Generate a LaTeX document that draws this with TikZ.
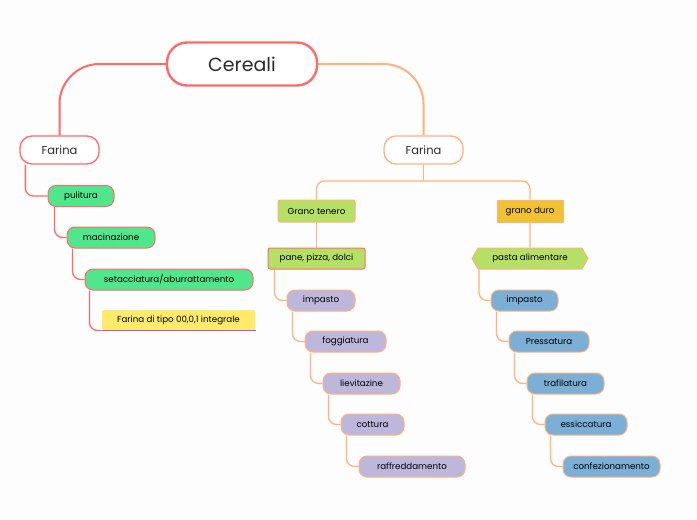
\documentclass[tikz,border=0pt]{standalone}
\usepackage{fontspec}
\setmainfont{Poppins}
\usepackage{tikz}
\usetikzlibrary{shapes.symbols,backgrounds}
\definecolor{CeRed}   {HTML}{FF6B6B}
\definecolor{CeOrange}{HTML}{FFB27F}
\definecolor{CeGreen} {HTML}{4FE68C}
\definecolor{CeYellow}{HTML}{FFEA6A}
\definecolor{CePurple}{HTML}{B24FF0}
\definecolor{CeLime}  {HTML}{B5E065}
\definecolor{CeGold}  {HTML}{F0C233}
\definecolor{CeLav}   {HTML}{BDB7DC}
\definecolor{CeBlue}  {HTML}{7BAFD5}
\definecolor{CeText}  {HTML}{2B2B2B}
\definecolor{CePaper} {HTML}{FDFDFD}

\begin{document}
\begin{tikzpicture}[x=1pt,y=-1pt,
    root/.style={draw=CeRed,line width=2.4pt,fill=white,rounded corners=20pt,
      minimum width=150pt,minimum height=43pt,text=CeText,font=\fontsize{19}{21}\selectfont},
    topic/.style={line width=1.3pt,fill=white,rounded corners=12pt,
      minimum width=79pt,minimum height=28pt,text=CeText,font=\fontsize{11.5}{13}\selectfont},
    item/.style={line width=1pt,rounded corners=8pt,minimum height=21pt,inner sep=0pt,
      text=black,font=\fontsize{8.7}{10}\selectfont},
    leaf/.style={item,rounded corners=2pt},
    link/.style={line width=1.3pt,rounded corners=8pt},
    trunk/.style={line width=2pt,rounded corners=40pt}
  ]
    \begin{scope}[on background layer]
      \fill[CePaper] (0,0) rectangle (697,520);
    \end{scope}
    \useasboundingbox (0,0) rectangle (697,520);

    % top
    \node[root](cer) at (242,64) {Cereali};
    \node[topic,draw=CeRed](farL) at (59.5,150) {Farina};
    \node[topic,draw=CeOrange](farR) at (423.5,150) {Farina};

    % farina (left)
    \node[item,fill=CeGreen,draw=CeRed,minimum width=66pt](pul) at (81,196) {pulitura};
    \node[item,fill=CeGreen,draw=CeRed,minimum width=88pt](mac) at (111,237.5) {macinazione};
    \node[item,fill=CeGreen,draw=CeRed,minimum width=168pt](setac) at (169,279.5) {setacciatura/aburrattamento};
    \node[leaf,fill=CeYellow,minimum width=153pt,minimum height=20pt](tipo) at (178.5,320) {Farina di tipo 00,0,1 integrale};
    \draw[CePurple,line width=1.3pt](tipo.south west)--(tipo.south east);

    % grano
    \node[leaf,fill=CeLime,draw=CeOrange,minimum width=77pt,minimum height=22pt](gten) at (316.5,211) {Grano tenero};
    \node[item,rounded corners=0pt,fill=CeGold,draw=CeOrange,minimum width=66pt,minimum height=22pt](gdur) at (530,211) {grano duro};
    \node[leaf,fill=CeLime,draw=CeRed,minimum width=97pt](pane) at (316.5,258.5) {pane, pizza, dolci};
    \node[item,rounded corners=0pt,signal,signal to=west and east,signal pointer angle=120,
      fill=CeLime,draw=CeOrange,minimum width=116pt](pasta) at (530,258.5) {pasta alimentare};

    % pane, pizza, dolci
    \node[item,fill=CeLav,draw=CeOrange,minimum width=68pt](impT) at (321,300.5) {impasto};
    \node[item,fill=CeLav,draw=CeOrange,minimum width=81pt](fogg) at (345.5,341.5) {foggiatura};
    \node[item,fill=CeLav,draw=CeOrange,minimum width=77pt](liev) at (361.5,383.5) {lievitazine};
    \node[item,fill=CeLav,draw=CeOrange,minimum width=63pt](cott) at (372.5,424.5) {cottura};
    \node[item,fill=CeLav,draw=CeOrange,minimum width=106pt](raff) at (412,466.5) {raffreddamento};

    % pasta alimentare
    \node[item,fill=CeBlue,draw=CeOrange,minimum width=67pt](impD) at (524.5,300.5) {impasto};
    \node[item,fill=CeBlue,draw=CeOrange,minimum width=80pt](pres) at (549,341.5) {Pressatura};
    \node[item,fill=CeBlue,draw=CeOrange,minimum width=77pt](traf) at (565.5,383.5) {trafilatura};
    \node[item,fill=CeBlue,draw=CeOrange,minimum width=82pt](essi) at (586,424.5) {essiccatura};
    \node[item,fill=CeBlue,draw=CeOrange,minimum width=97pt](conf) at (611.5,466.5) {confezionamento};

    \coordinate(fork) at (423.5,181);

    \begin{scope}[on background layer]
      \draw[trunk,CeRed](cer.west) -| (farL.north);
      \draw[trunk,CeOrange](cer.east) -| (farR.north);
      \draw[link,CeRed]([xshift=6pt]farL.south west) |- (pul.west);
      \draw[link,CeRed]([xshift=7pt]pul.south west) |- (mac.west);
      \draw[link,CeRed]([xshift=6pt]mac.south west) |- (setac.west);
      \draw[link,CeRed]([xshift=5pt]setac.south west) |- (tipo.south west);
      \draw[link,CeOrange](farR.south) -- (fork);
      \draw[link,CeOrange](fork) -| (gten.north);
      \draw[link,CeOrange](fork) -| (gdur.north);
      \draw[link,CeOrange](gten) -- (pane);
      \draw[link,CeOrange](gdur) -- (pasta);
      \draw[link,CeOrange]([xshift=7pt]pane.south west) |- (impT.west);
      \draw[link,CeOrange]([xshift=6pt]impT.south west) |- (fogg.west);
      \draw[link,CeOrange]([xshift=6pt]fogg.south west) |- (liev.west);
      \draw[link,CeOrange]([xshift=6pt]liev.south west) |- (cott.west);
      \draw[link,CeOrange]([xshift=6pt]cott.south west) |- (raff.west);
      \draw[link,CeOrange]([xshift=-51pt]pasta.south) |- (impD.west);
      \draw[link,CeOrange]([xshift=6pt]impD.south west) |- (pres.west);
      \draw[link,CeOrange]([xshift=6pt]pres.south west) |- (traf.west);
      \draw[link,CeOrange]([xshift=6pt]traf.south west) |- (essi.west);
      \draw[link,CeOrange]([xshift=6pt]essi.south west) |- (conf.west);
    \end{scope}
  \end{tikzpicture}
\end{document}
